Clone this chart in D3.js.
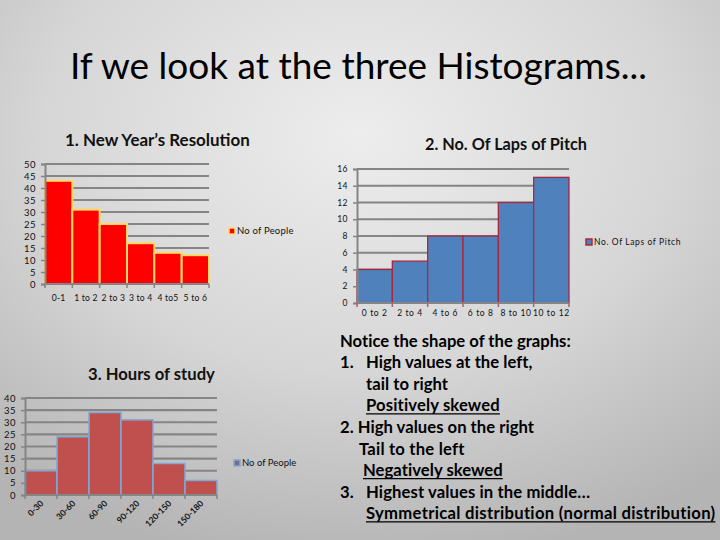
<!DOCTYPE html>
<html><head><meta charset="utf-8">
<script src="https://cdn.jsdelivr.net/npm/d3@7"></script>
<style>html,body{margin:0;padding:0;overflow:hidden;}svg{display:block;}</style>
</head><body>
<script>
// ---- data ----
const resolutionCats = ["0-1", "1 to 2", "2 to 3", "3 to 4", "4 to5", "5 to 6"];
const resolutionValues = [43, 31, 25, 17, 13, 12];
const resolutionTicks = [0, 5, 10, 15, 20, 25, 30, 35, 40, 45, 50];

const lapsCats = ["0 to 2", "2 to 4", "4 to 6", "6 to 8", "8 to 10", "10 to 12"];
const lapsValues = [4, 5, 8, 8, 12, 15];
const lapsTicks = [0, 2, 4, 6, 8, 10, 12, 14, 16];

const studyCats = ["0-30", "30-60", "60-90", "90-120", "120-150", "150-180"];
const studyValues = [10, 24, 34, 31, 13, 6];
const studyTicks = [0, 5, 10, 15, 20, 25, 30, 35, 40];

const notes = [
  {t: "Notice the shape of the graphs:", w: 231},
  {n: "1.", t: "High values at the left,", w: 166},
  {t: "tail to right", indent: true, w: 82},
  {t: "Positively skewed", indent: true, u: true, w: 134},
  {t: "2. High values on the right", w: 194},
  {t: "Tail to the left", indent2: true, w: 105},
  {t: "Negatively skewed", indent3: true, u: true, w: 140},
  {n: "3.", t: "Highest values in the middle\u2026", w: 224},
  {t: "Symmetrical distribution  (normal distribution)", indent: true, u: true, w: 350}
];

const W = 720, H = 540;
const FONT = "Lato, 'Open Sans', sans-serif";
const svg = d3.select("body").append("svg").attr("width", W).attr("height", H)
  .style("font-family", FONT);

const defs = svg.append("defs");
const rg = defs.append("radialGradient").attr("id", "bg")
  .attr("cx", "50%").attr("cy", "25%").attr("r", "80%");
rg.append("stop").attr("offset", "0%").attr("stop-color", "#ededed");
rg.append("stop").attr("offset", "55%").attr("stop-color", "#d6d6d6");
rg.append("stop").attr("offset", "100%").attr("stop-color", "#b4b4b4");
svg.append("rect").attr("width", W).attr("height", H).attr("fill", "url(#bg)");

function fit(sel, target) {
  const base = parseFloat(sel.attr("font-size"));
  const w = sel.node().getComputedTextLength();
  sel.attr("font-size", base * target / w);
  return sel;
}

// main title
const title = svg.append("text").attr("x", 70).attr("y", 79).attr("font-size", 40)
  .attr("fill", "#000").text("If we look at the three Histograms...");
fit(title, 577);

function histogram(o) {
  const g = svg.append("g");
  const x = d3.scaleBand().domain(o.cats).range([o.x0, o.x1]).padding(0);
  const y = d3.scaleLinear().domain([0, o.ticks[o.ticks.length - 1]]).range([o.y0, o.y1]);
  // gridlines
  g.selectAll(".grid").data(o.ticks.slice(1)).join("line")
    .attr("x1", o.x0).attr("x2", o.x1)
    .attr("y1", d => y(d)).attr("y2", d => y(d))
    .attr("stroke", "#858585").attr("stroke-width", 2.2);
  // bars
  g.selectAll(".bar").data(o.values).join("rect")
    .attr("x", (d, i) => x(o.cats[i]))
    .attr("y", d => y(d))
    .attr("width", x.bandwidth())
    .attr("height", d => o.y0 - y(d))
    .attr("fill", o.fill).attr("stroke", o.stroke).attr("stroke-width", o.sw);
  // y axis
  const ya = d3.axisLeft(y).tickValues(o.ticks).tickSize(4).tickPadding(5);
  const yg = g.append("g").attr("transform", `translate(${o.x0},0)`).call(ya);
  yg.select(".domain").attr("stroke", "#858585").attr("stroke-width", 2);
  yg.selectAll(".tick line").attr("stroke", "#858585").attr("stroke-width", 1.5);
  yg.selectAll("text").attr("font-size", o.fs).attr("font-family", FONT).attr("fill", "#111")
    .attr("letter-spacing", 0.5);
  // x axis
  const xa = g.append("g").attr("transform", `translate(0,${o.y0})`);
  xa.append("line").attr("x1", o.x0).attr("x2", o.x1).attr("stroke", "#858585").attr("stroke-width", 2);
  const bounds = o.cats.map(c => x(c)).concat([o.x1]);
  xa.selectAll(".xt").data(bounds).join("line")
    .attr("x1", d => d).attr("x2", d => d).attr("y1", 0).attr("y2", 4)
    .attr("stroke", o.tickColor || "#858585").attr("stroke-width", 1.5);
  if (o.rotate) {
    xa.selectAll(".xl").data(o.cats).join("text")
      .attr("transform", d => `translate(${x(d) + x.bandwidth() / 2 + 3},${9}) rotate(-45)`)
      .attr("text-anchor", "end").attr("font-size", o.xfs || o.fs).attr("font-weight", "bold")
      .attr("fill", "#111").text(d => d);
  } else {
    xa.selectAll(".xl").data(o.cats).join("text")
      .attr("x", d => x(d) + x.bandwidth() / 2).attr("y", o.xly)
      .attr("text-anchor", "middle").attr("font-size", o.xfs || o.fs).attr("fill", "#111")
      .attr("letter-spacing", o.ls || 0).text(d => d);
  }
  // legend
  g.append("rect").attr("x", o.lx).attr("y", o.ly - 3).attr("width", 6).attr("height", 6)
    .attr("fill", o.legFill || o.fill).attr("stroke", o.stroke).attr("stroke-width", 1.5);
  g.append("text").attr("x", o.lx + 8).attr("y", o.ly + 3).attr("font-size", o.fs)
    .attr("fill", "#111").attr("letter-spacing", o.ls || 0).text(o.legend);
  // title
  const t = g.append("text").attr("x", o.tx).attr("y", o.ty).attr("font-size", 15)
    .attr("font-weight", "bold").attr("fill", "#111").text(o.title);
  fit(t, o.tw);
}

histogram({
  cats: resolutionCats, values: resolutionValues, ticks: resolutionTicks,
  x0: 45, x1: 209, y0: 284, y1: 164, fill: "#ff0000", stroke: "#ffd966", sw: 2,
  fs: 9.5, xfs: 8.6, xly: 17, ls: 0.2, lx: 229, ly: 231, legend: "No of People",
  title: "1. New Year\u2019s Resolution", tx: 65, ty: 146, tw: 185
});

histogram({
  cats: lapsCats, values: lapsValues, ticks: lapsTicks,
  x0: 357, x1: 569, y0: 303, y1: 169, fill: "#4f81bd", stroke: "#a8283e", sw: 1.3,
  fs: 8.5, xly: 13, ls: 0.6, lx: 586, ly: 242, legend: "No. Of Laps of Pitch",
  tickColor: "#b06070",
  title: "2. No. Of Laps of Pitch", tx: 425, ty: 150, tw: 162
});

histogram({
  cats: studyCats, values: studyValues, ticks: studyTicks,
  x0: 25, x1: 217, y0: 495, y1: 398, fill: "#c0504d", stroke: "#7fa9d6", sw: 1.5,
  fs: 9.5, xfs: 8.5, rotate: true, lx: 234, ly: 463, legend: "No of People", legFill: "#7a6a8a",
  title: "3. Hours of study", tx: 88, ty: 380, tw: 127
});

// notes text
const ng = svg.append("g").attr("font-weight", "bold").attr("fill", "#000")
  .style("white-space", "pre");
const probe = ng.append("text").attr("x", 340).attr("y", 346.5).attr("font-size", 18).text(notes[0].t);
fit(probe, 231);
const fsN = parseFloat(probe.attr("font-size"));
probe.remove();
notes.forEach((d, i) => {
  const yb = 346.5 + i * 21.6;
  if (d.n) ng.append("text").attr("x", 340).attr("y", yb).attr("font-size", fsN).text(d.n);
  const xs = d.indent || d.n ? 366 : d.indent2 ? 359 : d.indent3 ? 363 : 340;
  const t = ng.append("text").attr("x", xs).attr("y", yb).attr("font-size", fsN).text(d.t);
  const w0 = t.node().getComputedTextLength();
  const n = d.t.length - 1;
  const ls = Math.max(-0.3, Math.min(0.6, (d.w - w0) / n));
  t.attr("letter-spacing", ls);
  if (d.u) {
    const w = t.node().getComputedTextLength();
    ng.append("line").attr("x1", xs).attr("x2", xs + w).attr("y1", yb + 2.5).attr("y2", yb + 2.5)
      .attr("stroke", "#000").attr("stroke-width", 1.3);
  }
});
</script>
</body></html>
